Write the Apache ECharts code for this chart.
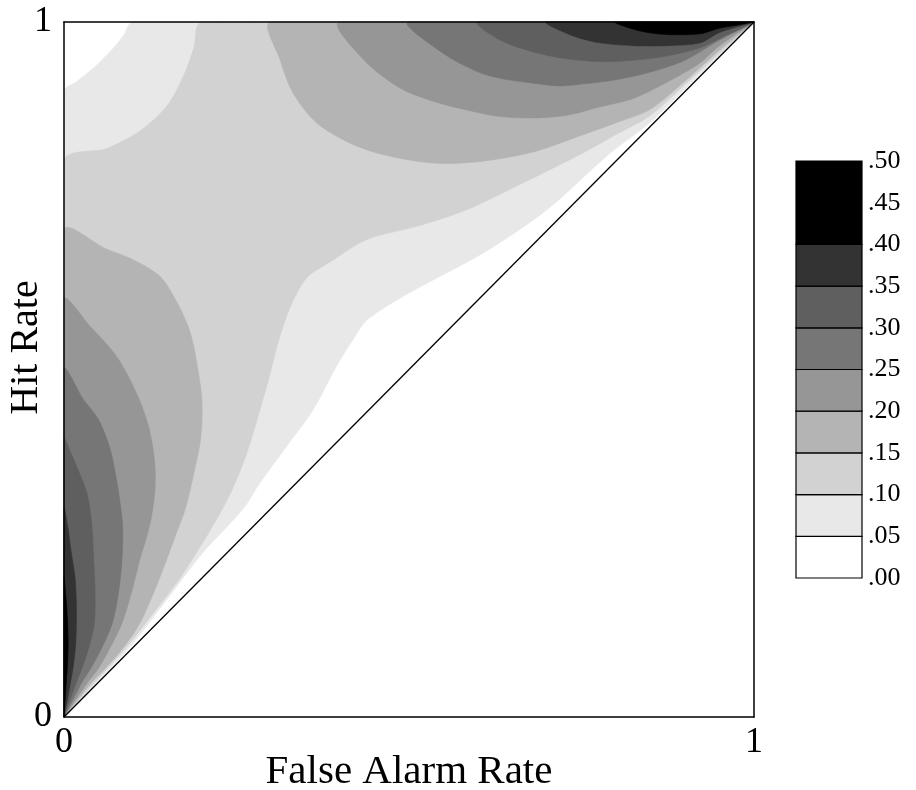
<!DOCTYPE html>
<html>
<head>
<meta charset="utf-8">
<script src="https://cdn.jsdelivr.net/npm/echarts@6/dist/echarts.min.js"></script>
<style>html,body{margin:0;padding:0;background:#fff}#main{width:916px;height:790px}</style>
</head>
<body>
<div id="main"></div>
<script>
// ---- contour levels and fill colours ----
const levels = [0.05, 0.10, 0.15, 0.20, 0.25, 0.30, 0.35, 0.40];
const levelColors = ['#e8e8e8', '#d2d2d2', '#b4b4b4', '#969696', '#767676', '#5f5f5f', '#333333', '#000000'];

// ---- legend bands ----
const legendEdges = [0, 0.05, 0.10, 0.15, 0.20, 0.25, 0.30, 0.35, 0.40, 0.50];
const legendFill = ['#ffffff', '#e8e8e8', '#d2d2d2', '#b4b4b4', '#969696', '#767676', '#5f5f5f', '#333333', '#000000'];
const legendTickLabels = ['.00', '.05', '.10', '.15', '.20', '.25', '.30', '.35', '.40', '.45', '.50'];
const axisTickLabels = ['0', '1'];

// ---- contour lines, [false alarm rate, hit rate] ----
// .05 level: near-diagonal curve (0,0)->(1,1) and corner curve near (0,1)
const diag05 = [[0,0],[0.024,0.025],[0.048,0.05],[0.095,0.10],[0.149,0.169],[0.20,0.235],[0.26,0.30],[0.284,0.337],[0.323,0.39],[0.361,0.442],[0.395,0.505],[0.42,0.545],[0.44,0.572],[0.50,0.61],[0.608,0.668],[0.70,0.73],[0.79,0.81],[0.85,0.856],[0.90,0.904],[0.95,0.952],[1,1]];
const corner05 = [[0,0.90],[0.018,0.914],[0.042,0.933],[0.071,0.962],[0.086,0.980],[0.10,1]];
// .10 level
const diag10 = [[0,0],[0.0225,0.025],[0.045,0.05],[0.09,0.10],[0.13,0.15],[0.173,0.207],[0.221,0.284],[0.245,0.33],[0.265,0.38],[0.284,0.442],[0.299,0.495],[0.31,0.538],[0.328,0.59],[0.352,0.632],[0.386,0.655],[0.439,0.687],[0.511,0.706],[0.584,0.730],[0.656,0.764],[0.753,0.812],[0.80,0.838],[0.849,0.865],[0.90,0.91],[0.95,0.955],[1,1]];
const corner10 = [[0,0.80],[0.062,0.818],[0.11,0.843],[0.149,0.879],[0.173,0.922],[0.188,0.962],[0.20,1]];
// .15 - .40 levels: lobe along the left edge and lobe along the top edge
const lower15 = [[0,0.70],[0.062,0.673],[0.10,0.658],[0.139,0.634],[0.164,0.596],[0.183,0.553],[0.194,0.50],[0.20,0.453],[0.198,0.40],[0.188,0.35],[0.176,0.30],[0.163,0.265],[0.149,0.227],[0.13,0.179],[0.11,0.135],[0.086,0.10],[0.06,0.07],[0.0405,0.05],[0.02,0.025],[0,0]];
const upper15 = [[0.30,1],[0.313,0.946],[0.332,0.898],[0.366,0.855],[0.414,0.826],[0.463,0.809],[0.535,0.797],[0.60,0.799],[0.68,0.813],[0.753,0.838],[0.80,0.855],[0.849,0.874],[0.90,0.915],[0.95,0.9595],[1,1]];
const lower20 = [[0,0.60],[0.038,0.562],[0.076,0.519],[0.105,0.466],[0.122,0.42],[0.131,0.371],[0.132,0.33],[0.127,0.29],[0.12,0.26],[0.11,0.227],[0.098,0.18],[0.084,0.135],[0.067,0.10],[0.05,0.07],[0.0345,0.05],[0.017,0.025],[0,0]];
const upper20 = [[0.40,1],[0.434,0.946],[0.487,0.905],[0.535,0.886],[0.59,0.872],[0.632,0.864],[0.68,0.862],[0.73,0.866],[0.777,0.878],[0.825,0.89],[0.873,0.913],[0.92,0.94],[0.95,0.966],[1,1]];
const lower25 = [[0,0.50],[0.028,0.457],[0.050,0.428],[0.067,0.385],[0.076,0.342],[0.081,0.31],[0.085,0.275],[0.084,0.227],[0.079,0.179],[0.07,0.135],[0.055,0.10],[0.04,0.072],[0.026,0.05],[0.013,0.025],[0,0]];
const upper25 = [[0.50,1],[0.545,0.958],[0.598,0.929],[0.632,0.919],[0.68,0.912],[0.72,0.908],[0.753,0.911],[0.80,0.917],[0.85,0.928],[0.90,0.945],[0.95,0.974],[1,1]];
const lower30 = [[0,0.40],[0.010,0.38],[0.018,0.361],[0.033,0.323],[0.040,0.28],[0.043,0.227],[0.045,0.18],[0.044,0.135],[0.036,0.10],[0.026,0.07],[0.018,0.05],[0.009,0.025],[0,0]];
const upper30 = [[0.60,1],[0.632,0.974],[0.68,0.957],[0.729,0.947],[0.777,0.943],[0.825,0.945],[0.873,0.951],[0.922,0.963],[0.95,0.976],[1,1]];
const lower35 = [[0,0.30],[0.006,0.27],[0.010,0.24],[0.016,0.20],[0.018,0.155],[0.017,0.107],[0.013,0.07],[0.0095,0.05],[0.005,0.025],[0,0]];
const upper35 = [[0.70,1],[0.738,0.980],[0.777,0.970],[0.825,0.966],[0.873,0.966],[0.922,0.970],[0.95,0.985],[1,1]];
const lower40 = [[0,0.20],[0.003,0.17],[0.005,0.14],[0.006,0.107],[0.005,0.075],[0.0033,0.05],[0.0017,0.025],[0,0]];
const upper40 = [[0.80,1],[0.835,0.987],[0.873,0.982],[0.922,0.983],[0.95,0.991],[1,1]];
const chanceLine = [[0,0],[1,1]];

// ---- filled regions (value >= level), painted from low to high ----
const regions = [
  {li: 0, pts: diag05.concat(corner05.slice().reverse())},
  {li: 1, pts: diag10.concat(corner10.slice().reverse())},
  {li: 2, pts: lower15}, {li: 2, pts: upper15},
  {li: 3, pts: lower20}, {li: 3, pts: upper20},
  {li: 4, pts: lower25}, {li: 4, pts: upper25},
  {li: 5, pts: lower30}, {li: 5, pts: upper30},
  {li: 6, pts: lower35}, {li: 6, pts: upper35},
  {li: 7, pts: lower40}, {li: 7, pts: upper40}
];

const FONT = '"Liberation Serif", "Times New Roman", serif';
const chart = echarts.init(document.getElementById('main'), null, {renderer: 'canvas'});

chart.setOption({
  animation: false,
  backgroundColor: '#ffffff',
  grid: [
    {left: 64, top: 22, width: 690, height: 695, containLabel: false, outerBoundsMode: 'none'},
    {left: 796, top: 161, width: 66, height: 417, containLabel: false, outerBoundsMode: 'none'}
  ],
  xAxis: [
    {gridIndex: 0, type: 'value', min: 0, max: 1, interval: 1, position: 'bottom', z: 10,
     axisLine: {show: true, onZero: false, lineStyle: {color: '#000', width: 1.5}},
     axisTick: {show: false}, splitLine: {show: false},
     axisLabel: {margin: 8, fontFamily: FONT, fontSize: 36, color: '#000',
       formatter: v => axisTickLabels[Math.round(v)]},
     name: 'False Alarm Rate', nameLocation: 'middle', nameGap: 35, nameMoveOverlap: false,
     nameTextStyle: {fontFamily: FONT, fontSize: 41, color: '#000'}},
    {gridIndex: 0, type: 'value', min: 0, max: 1, interval: 1, position: 'top', z: 10,
     axisLine: {show: true, onZero: false, lineStyle: {color: '#000', width: 1.5}},
     axisTick: {show: false}, splitLine: {show: false}, axisLabel: {show: false}},
    {gridIndex: 1, type: 'value', min: 0, max: 1, show: false}
  ],
  yAxis: [
    {gridIndex: 0, type: 'value', min: 0, max: 1, interval: 1, position: 'left', z: 10,
     axisLine: {show: true, onZero: false, lineStyle: {color: '#000', width: 1.5}},
     axisTick: {show: false}, splitLine: {show: false},
     axisLabel: {margin: 12, fontFamily: FONT, fontSize: 36, color: '#000',
       formatter: v => axisTickLabels[Math.round(v)]},
     name: 'Hit Rate', nameLocation: 'middle', nameGap: 18, nameRotate: 90, nameMoveOverlap: false,
     nameTextStyle: {fontFamily: FONT, fontSize: 40, color: '#000', padding: [0, 0, 0, 44]}},
    {gridIndex: 0, type: 'value', min: 0, max: 1, interval: 1, position: 'right', z: 10,
     axisLine: {show: true, onZero: false, lineStyle: {color: '#000', width: 1.5}},
     axisTick: {show: false}, splitLine: {show: false}, axisLabel: {show: false}},
    {gridIndex: 1, type: 'value', min: 0, max: 0.5, interval: 0.05, position: 'right',
     axisLine: {show: false}, axisTick: {show: false}, splitLine: {show: false},
     axisLabel: {margin: 6, fontFamily: FONT, fontSize: 26, color: '#000',
       formatter: v => legendTickLabels[Math.round(v / 0.05)]}}
  ],
  series: [
    {
      type: 'custom', xAxisIndex: 0, yAxisIndex: 0, silent: true, z: 1,
      data: regions.map(r => r.pts[0]),
      encode: {x: 0, y: 1},
      renderItem: function (params, api) {
        const r = regions[params.dataIndex];
        const c = levelColors[r.li];
        const a = api.coord([0, 1]);
        const b = api.coord([1, 0]);
        return {
          type: 'polygon',
          shape: {points: r.pts.map(p => api.coord(p)), smooth: 0.3, smoothConstraint: [a, b]},
          style: {fill: c, stroke: c, lineWidth: 0.6}
        };
      }
    },
    {
      type: 'line', xAxisIndex: 0, yAxisIndex: 0, data: chanceLine, symbol: 'none', silent: true, z: 5,
      lineStyle: {color: '#000', width: 1.3}
    },
    {
      type: 'custom', xAxisIndex: 2, yAxisIndex: 2, silent: true, z: 2,
      data: legendFill.map((c, i) => [0.5, legendEdges[i], legendEdges[i + 1]]),
      encode: {x: 0, y: [1, 2]},
      renderItem: function (params, api) {
        const lo = api.coord([0, api.value(1)]);
        const hi = api.coord([1, api.value(2)]);
        return {
          type: 'rect',
          shape: {x: lo[0], y: hi[1], width: hi[0] - lo[0], height: lo[1] - hi[1]},
          style: {fill: legendFill[params.dataIndex], stroke: '#000', lineWidth: 1.2}
        };
      }
    }
  ]
});
</script>
</body>
</html>
